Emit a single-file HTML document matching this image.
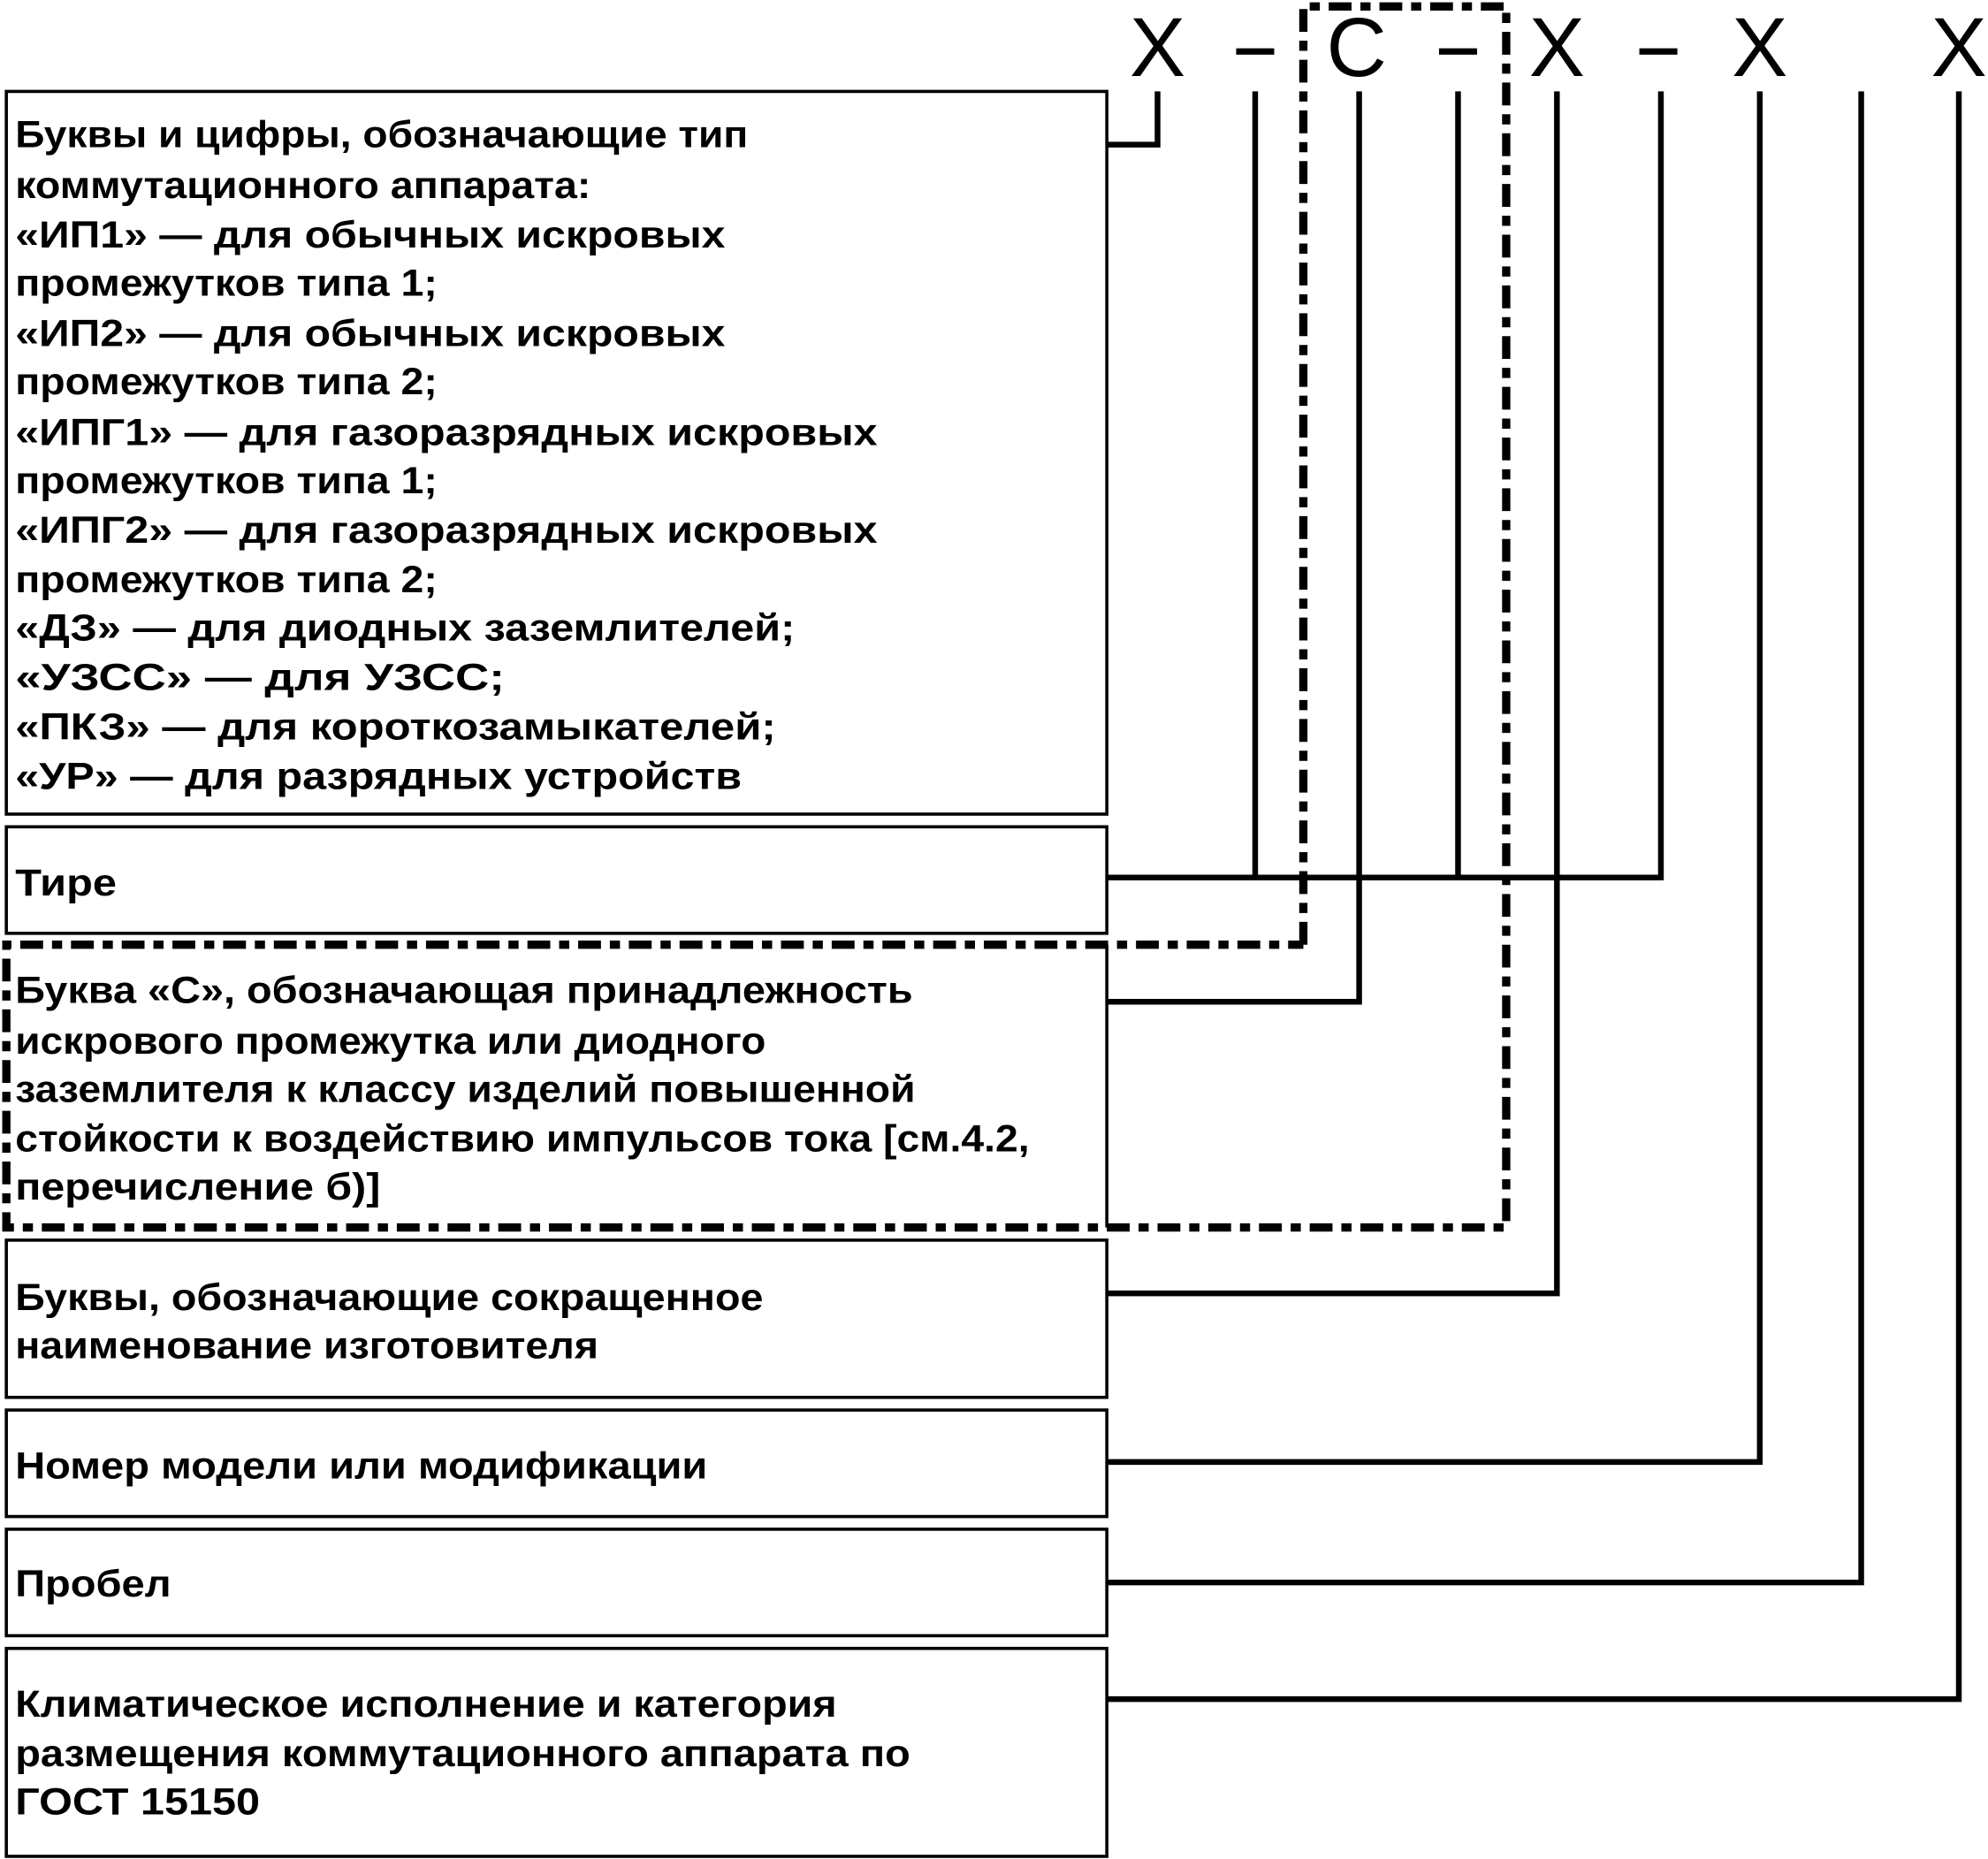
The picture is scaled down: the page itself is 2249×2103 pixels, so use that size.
<!DOCTYPE html>
<html><head><meta charset="utf-8"><style>html,body{margin:0;padding:0;background:#fff}svg{display:block}</style></head>
<body>
<svg width="2249" height="2103" viewBox="0 0 1568 1466" xmlns="http://www.w3.org/2000/svg">
<rect width="1568" height="1466" fill="#fff"/>
<g font-family="Liberation Sans, sans-serif" font-size="66" text-anchor="middle" fill="#000">
<text x="913" y="60">X</text><text x="1070" y="60">C</text><text x="1228" y="60">X</text><text x="1388" y="60">X</text><text x="1545" y="60">X</text>
</g>
<g fill="#000"><rect x="975" y="38" width="30" height="5"/><rect x="1135" y="38" width="30" height="5"/><rect x="1293" y="38" width="30" height="5"/></g>
<g fill="none" stroke="#000" stroke-width="2.5">
<rect x="5" y="72" width="868" height="570"/>
<rect x="5" y="652" width="868" height="84"/>
<line x1="873" y1="745" x2="873" y2="968"/>
<rect x="5" y="978" width="868" height="124"/>
<rect x="5" y="1112" width="868" height="84"/>
<rect x="5" y="1206" width="868" height="84"/>
<rect x="5" y="1300" width="868" height="164"/>
</g>
<g fill="none" stroke="#000" stroke-width="4.5">
<polyline points="873,114 913,114 913,72"/>
<line x1="990" y1="72" x2="990" y2="692"/>
<line x1="1150" y1="72" x2="1150" y2="692"/>
<polyline points="873,692 1310,692 1310,72"/>
<polyline points="873,790 1072,790 1072,72"/>
<polyline points="873,1020 1228,1020 1228,72"/>
<polyline points="873,1153 1388,1153 1388,72"/>
<polyline points="873,1248 1468,1248 1468,72"/>
<polyline points="873,1340 1545,1340 1545,72"/>
</g>
<polyline points="1028,745 1028,5 1188,5 1188,968 5,968 5,745 1028,745" fill="none" stroke="#000" stroke-width="6.5" stroke-dasharray="18 7 8 7"/>
<g font-family="Liberation Sans, sans-serif" font-size="30" font-weight="bold" fill="#000">
<text x="12" y="116" textLength="578" lengthAdjust="spacingAndGlyphs">Буквы и цифры, обозначающие тип</text>
<text x="12" y="156" textLength="454" lengthAdjust="spacingAndGlyphs">коммутационного аппарата:</text>
<text x="12" y="195" textLength="560" lengthAdjust="spacingAndGlyphs">«ИП1»  — для обычных искровых</text>
<text x="12" y="233" textLength="333" lengthAdjust="spacingAndGlyphs">промежутков типа 1;</text>
<text x="12" y="273" textLength="560" lengthAdjust="spacingAndGlyphs">«ИП2»  — для обычных искровых</text>
<text x="12" y="311" textLength="333" lengthAdjust="spacingAndGlyphs">промежутков типа 2;</text>
<text x="12" y="351" textLength="680" lengthAdjust="spacingAndGlyphs">«ИПГ1»  — для газоразрядных искровых</text>
<text x="12" y="389" textLength="333" lengthAdjust="spacingAndGlyphs">промежутков типа 1;</text>
<text x="12" y="428" textLength="680" lengthAdjust="spacingAndGlyphs">«ИПГ2»  — для газоразрядных искровых</text>
<text x="12" y="467" textLength="333" lengthAdjust="spacingAndGlyphs">промежутков типа 2;</text>
<text x="12" y="505" textLength="615" lengthAdjust="spacingAndGlyphs">«ДЗ»  — для диодных заземлителей;</text>
<text x="12" y="544" textLength="386" lengthAdjust="spacingAndGlyphs">«УЗСС»  — для УЗСС;</text>
<text x="12" y="583" textLength="600" lengthAdjust="spacingAndGlyphs">«ПКЗ»  — для короткозамыкателей;</text>
<text x="12" y="622" textLength="573" lengthAdjust="spacingAndGlyphs">«УР»  — для разрядных устройств</text>
<text x="12" y="706" textLength="80" lengthAdjust="spacingAndGlyphs">Тире</text>
<text x="12" y="791" textLength="708" lengthAdjust="spacingAndGlyphs">Буква «С», обозначающая принадлежность</text>
<text x="12" y="831" textLength="592" lengthAdjust="spacingAndGlyphs">искрового промежутка или диодного</text>
<text x="12" y="869" textLength="710" lengthAdjust="spacingAndGlyphs">заземлителя к классу изделий повышенной</text>
<text x="12" y="908" textLength="800" lengthAdjust="spacingAndGlyphs">стойкости к воздействию импульсов тока [см.4.2,</text>
<text x="12" y="946" textLength="288" lengthAdjust="spacingAndGlyphs">перечисление б)]</text>
<text x="12" y="1033" textLength="590" lengthAdjust="spacingAndGlyphs">Буквы, обозначающие сокращенное</text>
<text x="12" y="1071" textLength="460" lengthAdjust="spacingAndGlyphs">наименование изготовителя</text>
<text x="12" y="1166" textLength="546" lengthAdjust="spacingAndGlyphs">Номер модели или модификации</text>
<text x="12" y="1259" textLength="123" lengthAdjust="spacingAndGlyphs">Пробел</text>
<text x="12" y="1354" textLength="648" lengthAdjust="spacingAndGlyphs">Климатическое исполнение и категория</text>
<text x="12" y="1393" textLength="706" lengthAdjust="spacingAndGlyphs">размещения коммутационного аппарата по</text>
<text x="12" y="1431" textLength="193" lengthAdjust="spacingAndGlyphs">ГОСТ 15150</text>
</g>
</svg>
</body></html>
